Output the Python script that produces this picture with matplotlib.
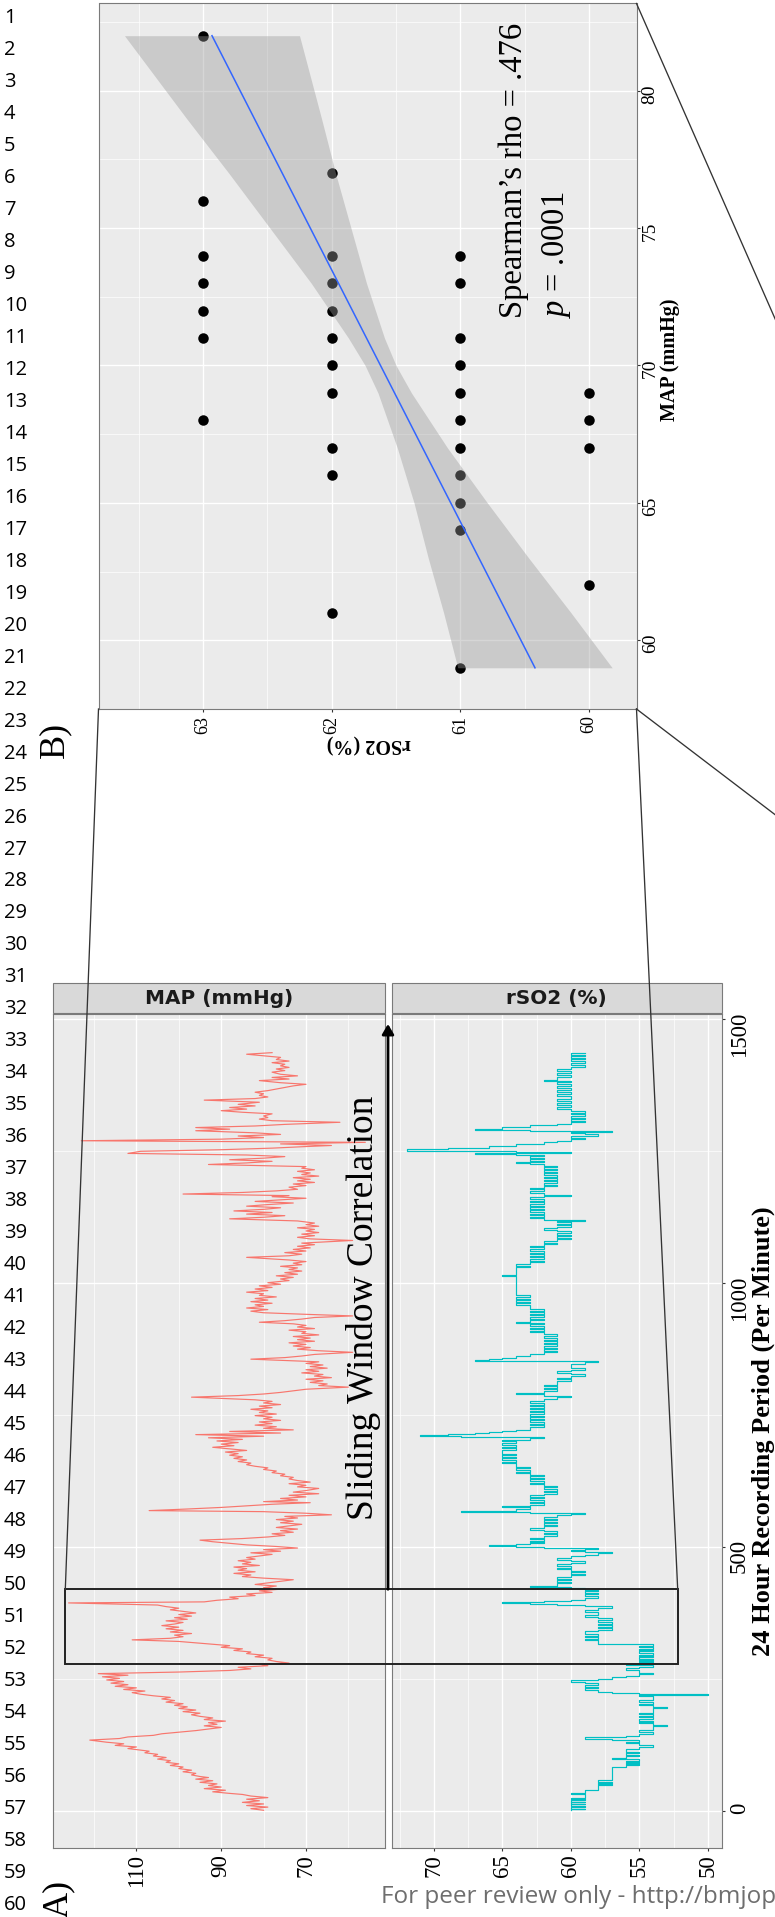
import numpy as np
import matplotlib
matplotlib.use('Agg')
from matplotlib import pyplot as plt
from matplotlib.patches import Rectangle

plt.rcParams['font.family'] = ['Liberation Serif', 'DejaVu Serif']
plt.rcParams['mathtext.fontset'] = 'custom'
plt.rcParams['mathtext.rm'] = 'Liberation Serif'
plt.rcParams['mathtext.it'] = 'Liberation Serif:italic'

W, H = 775, 1917

# B) MAP readings grouped by rSO2 level, taken inside the window
rso2_levels = [63, 62, 61, 60]
map_at_63 = [82, 76, 74, 73, 72, 71, 68]
map_at_62 = [77, 74, 73, 72, 71, 70, 69, 67, 66, 61]
map_at_61 = [74, 73, 71, 70, 69, 68, 67, 66, 65, 64, 59]
map_at_60 = [69, 68, 67, 62]

# linear smoother and its confidence band
fit_map = [59, 82]
fit_rso2 = [60.42, 62.93]
band_map = [59, 61, 63, 65, 67, 69, 70, 71, 73, 75, 77, 79, 82]
band_lo = [59.82, 60.14, 60.47, 60.79, 61.10, 61.38, 61.50, 61.59, 61.73, 61.85, 61.97, 62.08, 62.25]
band_hi = [61.02, 61.13, 61.25, 61.36, 61.49, 61.64, 61.74, 61.87, 62.16, 62.48, 62.80, 63.13, 63.61]

rho_label = 'Spearman\u2019s rho = .476'
p_label = r'$\mathit{p}$ = .0001'

# A) 24 h recording, (minute, value)
map_readings = [
    (1, 80), (4, 83), (7, 79), (10, 84), (13, 80), (16, 85), (19, 81), (22, 84), (25, 79), (28, 83), (31, 85),
    (33, 88), (36, 92), (39, 89), (42, 94), (45, 90), (48, 93), (51, 91), (54, 95), (57, 92), (60, 96), (63, 93), (65, 95),
    (68, 97), (71, 96), (74, 99), (77, 97), (80, 100), (83, 99), (86, 102), (89, 100), (92, 103), (95, 102), (98, 105),
    (101, 103), (104, 106), (107, 105), (110, 108), (113, 107), (115, 109),
    (118, 112), (121, 110), (124, 115), (127, 113), (130, 117), (134, 121), (137, 114), (140, 112), (143, 106), (146, 104),
    (149, 100), (152, 96), (155, 93), (158, 90), (161, 94), (164, 91), (167, 93), (170, 89), (173, 94), (176, 92), (179, 95),
    (182, 97), (185, 95), (188, 99), (191, 96), (194, 100), (197, 98), (200, 101), (203, 99), (206, 103), (209, 101),
    (212, 104), (215, 102), (218, 106), (221, 109), (224, 111), (227, 108), (230, 113), (233, 110), (236, 115), (239, 112),
    (242, 116), (245, 113), (248, 117), (251, 114), (254, 118), (257, 112), (260, 119),
    (263, 100), (266, 88), (269, 83), (272, 86), (275, 79), (278, 81), (280, 74),
    (283, 77), (286, 79), (289, 78), (292, 82), (295, 80), (298, 84), (301, 83), (304, 87), (307, 85), (310, 90), (313, 88),
    (317, 94), (321, 100), (324, 111), (327, 102), (330, 99), (333, 101), (336, 97), (339, 102), (342, 99), (345, 103),
    (348, 100), (351, 104), (354, 101), (357, 99), (360, 103), (363, 98), (366, 101), (369, 97), (372, 100), (375, 96),
    (378, 99), (381, 102), (384, 100), (387, 103), (390, 105), (394, 126), (396, 94),
    (399, 91), (402, 86), (405, 88), (408, 82), (411, 84), (414, 78), (417, 81), (420, 76), (423, 80), (426, 77), (429, 82),
    (432, 79), (435, 76), (438, 73),
    (441, 80), (444, 85), (447, 83), (450, 87), (453, 82), (456, 86), (459, 84), (462, 87), (465, 81), (468, 85), (471, 83),
    (474, 86), (477, 82), (480, 84), (483, 81),
    (486, 78), (489, 83), (492, 76), (495, 80), (498, 72), (501, 77), (504, 84), (507, 88), (510, 92), (513, 95), (516, 85),
    (519, 79), (522, 75), (525, 78), (528, 73), (531, 76), (534, 72), (537, 77), (540, 74), (543, 71), (546, 76), (549, 73),
    (552, 77), (555, 72), (558, 75), (561, 64), (564, 70), (567, 80), (569, 107), (572, 98), (575, 90), (578, 84), (581, 78),
    (584, 69), (586, 80), (589, 72), (592, 76), (595, 70), (598, 74), (601, 67), (604, 73), (607, 70), (611, 67), (614, 72),
    (617, 70), (620, 74), (623, 69), (626, 72), (629, 74), (632, 73), (635, 76), (638, 75), (641, 78), (644, 77), (647, 80),
    (650, 79), (653, 82), (656, 84), (659, 83), (662, 86), (665, 84), (668, 87), (671, 85), (674, 88), (677, 86), (680, 89),
    (683, 84), (686, 88), (689, 92), (692, 87), (695, 90), (698, 86), (701, 91), (704, 85),
    (707, 93), (710, 80), (713, 96), (716, 76), (719, 88), (722, 73),
    (725, 80), (728, 77), (731, 82), (734, 78), (737, 81), (740, 76), (743, 80), (746, 78), (749, 82), (752, 77), (755, 81),
    (758, 79), (761, 83), (764, 78), (767, 81), (770, 76), (773, 80), (776, 78), (779, 82), (784, 97),
    (787, 86), (790, 80), (793, 76), (796, 73), (799, 70), (803, 60), (806, 67),
    (809, 65), (812, 69), (815, 66), (818, 70), (821, 64), (824, 68), (827, 66), (830, 71), (833, 67), (836, 70), (839, 65),
    (842, 69), (845, 66), (848, 70), (851, 67), (856, 83), (859, 75), (862, 71), (865, 68), (869, 59), (872, 67),
    (875, 72), (878, 69), (881, 73), (884, 70), (887, 74), (890, 68), (893, 72), (896, 69), (899, 73), (902, 67), (905, 71),
    (908, 70), (911, 74), (914, 68), (917, 72), (920, 70), (923, 73), (926, 81), (929, 75), (932, 71), (935, 68), (938, 59),
    (941, 70), (944, 80), (947, 83), (950, 79), (953, 84), (956, 80), (959, 82), (962, 78), (965, 83), (968, 79), (971, 82),
    (974, 77), (977, 81), (980, 80), (983, 84), (986, 79), (989, 82), (992, 78), (995, 81), (998, 76), (1001, 79), (1005, 74),
    (1008, 76), (1011, 73), (1014, 77), (1017, 72), (1020, 75), (1023, 71), (1026, 74), (1029, 72), (1032, 76), (1035, 71),
    (1038, 73), (1041, 70), (1044, 74), (1049, 84), (1052, 74), (1055, 71), (1058, 75), (1061, 70), (1064, 73), (1067, 69),
    (1070, 72), (1073, 68), (1076, 71), (1081, 59), (1084, 69), (1087, 72), (1090, 68), (1093, 71), (1096, 67), (1099, 70),
    (1102, 68), (1105, 72), (1108, 67), (1111, 70), (1114, 68), (1118, 72),
    (1122, 88), (1125, 80), (1128, 75), (1131, 84), (1134, 78), (1137, 87), (1140, 80),
    (1143, 76), (1146, 84), (1149, 79), (1152, 73), (1155, 82), (1158, 76), (1161, 70), (1164, 78), (1166, 74), (1169, 99),
    (1172, 85), (1175, 77), (1178, 72), (1182, 74), (1185, 70), (1188, 73), (1191, 68), (1194, 72), (1197, 69), (1200, 73),
    (1203, 67), (1206, 71), (1209, 69), (1212, 72), (1215, 68), (1218, 71), (1221, 70), (1225, 93),
    (1228, 84), (1231, 78), (1234, 88), (1237, 80), (1240, 75), (1243, 84), (1246, 112), (1250, 109),
    (1253, 90), (1256, 78), (1259, 70), (1261, 64), (1264, 76), (1267, 56), (1270, 123),
    (1273, 90), (1276, 80), (1279, 86), (1282, 76), (1285, 82), (1289, 96),
    (1292, 88), (1295, 96), (1298, 82), (1301, 75), (1305, 62),
    (1308, 78), (1311, 81), (1314, 79), (1317, 80), (1321, 78),
    (1324, 85), (1327, 90), (1330, 84), (1333, 88), (1336, 82), (1339, 86), (1343, 81), (1347, 94),
    (1350, 82), (1353, 79), (1356, 81), (1359, 80), (1362, 82), (1365, 79),
    (1368, 77), (1371, 75), (1374, 73), (1377, 70), (1380, 76),
    (1384, 81), (1387, 74), (1390, 78), (1393, 72), (1396, 76),
    (1400, 78), (1403, 75), (1406, 77), (1409, 74), (1412, 76), (1415, 75), (1418, 78), (1421, 74), (1424, 77), (1428, 76),
    (1431, 80), (1434, 84), (1437, 78),
]

rso2_readings = [
    (1, 60), (3, 59), (4, 60), (6, 60), (8, 59), (9, 60), (12, 59), (13, 60), (16, 59), (17, 60), (20, 59), (22, 60),
    (24, 59), (28, 59), (31, 60), (33, 59), (36, 59), (40, 58), (46, 58), (48, 57), (50, 58), (53, 57), (55, 58), (58, 57),
    (62, 57), (70, 57), (80, 57), (83, 56), (86, 55), (88, 56), (90, 55), (92, 56), (95, 55), (99, 57), (100, 56),
    (104, 55), (106, 56), (109, 55), (112, 56), (115, 56), (118, 55), (121, 54), (124, 55), (128, 56), (131, 55),
    (135, 57), (137, 59), (139, 56), (142, 55), (146, 54), (150, 55), (154, 54), (158, 54), (161, 53), (163, 54),
    (166, 55), (169, 54), (171, 55), (174, 54), (177, 55), (180, 54), (183, 55), (186, 54), (190, 54), (194, 53),
    (197, 54), (200, 55), (203, 54), (207, 55), (210, 54), (214, 54), (217, 55), (219, 50), (221, 55), (224, 57),
    (226, 58), (229, 59), (232, 58), (235, 59), (238, 58), (242, 59), (245, 60), (247, 58), (250, 57), (253, 56),
    (256, 55), (259, 54), (262, 55), (266, 56), (270, 55), (273, 54), (276, 56), (279, 55), (282, 54), (284, 55),
    (286, 54), (288, 55), (291, 54), (293, 55), (296, 54), (299, 55), (302, 54), (304, 55), (307, 54), (310, 55),
    (313, 54), (316, 58), (320, 58), (323, 59), (326, 58), (329, 59), (332, 58), (336, 59), (340, 58), (343, 57),
    (346, 58), (349, 57), (352, 58), (355, 57), (358, 58), (361, 57), (365, 58), (368, 59), (372, 58), (376, 59),
    (380, 58), (384, 57), (388, 59), (390, 61), (392, 63), (393, 65), (395, 62), (397, 60), (400, 59), (404, 58),
    (407, 59), (410, 58), (413, 59), (416, 58), (419, 59), (422, 60), (425, 63), (427, 61), (431, 60), (434, 61),
    (437, 60), (440, 61), (443, 60), (446, 59), (449, 60), (452, 59), (455, 60), (458, 61), (461, 60), (464, 61),
    (467, 60), (470, 59), (473, 60), (476, 61), (479, 60), (482, 59), (485, 58), (488, 57), (490, 59), (493, 60),
    (495, 59), (497, 58), (499, 62), (500, 64), (501, 66), (503, 64), (505, 63), (507, 62), (510, 63), (512, 62),
    (515, 63), (518, 62), (521, 61), (524, 62), (527, 61), (530, 62), (533, 63), (536, 62), (539, 61), (542, 62),
    (545, 61), (548, 62), (551, 61), (554, 62), (557, 61), (561, 60), (563, 59), (565, 63), (567, 68), (569, 64),
    (572, 63), (575, 65), (577, 63), (580, 62), (583, 63), (586, 62), (589, 63), (592, 62), (595, 63), (598, 62),
    (601, 61), (604, 62), (607, 61), (610, 62), (613, 61), (616, 62), (619, 63), (622, 62), (625, 63), (628, 62),
    (631, 63), (634, 62), (637, 63), (640, 64), (643, 63), (646, 64), (649, 63), (652, 64), (655, 64), (659, 65),
    (662, 64), (665, 65), (668, 64), (671, 65), (674, 64), (677, 65), (680, 65), (684, 64), (687, 65), (690, 64),
    (693, 65), (697, 64), (700, 65), (703, 63), (706, 62), (708, 65), (709, 68), (710, 71), (712, 69), (714, 67),
    (716, 66), (718, 65), (720, 64), (722, 63), (725, 63), (728, 62), (731, 63), (734, 62), (737, 63), (740, 62),
    (743, 63), (746, 62), (749, 63), (752, 62), (755, 63), (758, 62), (761, 63), (764, 62), (767, 63), (770, 62),
    (773, 63), (777, 62), (781, 61), (784, 60), (786, 62), (790, 64), (792, 62), (796, 61), (799, 62), (802, 61),
    (805, 62), (808, 61), (812, 61), (815, 60), (818, 61), (821, 60), (824, 59), (827, 60), (830, 61), (833, 60),
    (836, 59), (839, 60), (842, 60), (847, 59), (850, 58), (852, 67), (854, 66), (856, 65), (859, 64), (862, 63),
    (866, 62), (869, 61), (872, 62), (875, 61), (878, 62), (881, 61), (884, 62), (887, 61), (890, 62), (893, 61),
    (896, 62), (899, 61), (903, 62), (907, 63), (910, 62), (913, 63), (916, 62), (919, 63), (922, 62), (925, 64),
    (927, 63), (930, 62), (933, 63), (936, 62), (939, 63), (942, 62), (945, 63), (948, 62), (951, 63), (955, 63),
    (959, 64), (962, 63), (965, 64), (968, 63), (971, 64), (974, 63), (977, 64), (980, 64), (1014, 65), (1016, 64),
    (1030, 63), (1033, 64), (1036, 63), (1040, 62), (1043, 63), (1046, 62), (1049, 63), (1052, 62), (1055, 63),
    (1058, 62), (1061, 63), (1064, 62), (1068, 63), (1071, 62), (1074, 61), (1077, 62), (1080, 61), (1083, 60),
    (1086, 61), (1089, 60), (1092, 61), (1095, 60), (1098, 61), (1101, 62), (1104, 61), (1107, 60), (1110, 61),
    (1113, 60), (1116, 61), (1118, 59), (1120, 62), (1123, 63), (1126, 62), (1129, 63), (1132, 62), (1135, 63),
    (1138, 62), (1141, 63), (1144, 62), (1147, 63), (1150, 62), (1153, 63), (1156, 62), (1159, 63), (1163, 62),
    (1166, 60), (1168, 62), (1171, 63), (1174, 62), (1178, 63), (1181, 62), (1184, 61), (1187, 62), (1190, 61),
    (1193, 62), (1196, 61), (1199, 62), (1202, 61), (1205, 62), (1208, 61), (1211, 62), (1214, 61), (1217, 62),
    (1220, 61), (1223, 62), (1226, 63), (1227, 64), (1229, 62), (1232, 63), (1235, 62), (1238, 63), (1241, 62),
    (1243, 64), (1244, 67), (1246, 60), (1248, 64), (1250, 67), (1251, 72), (1254, 69), (1257, 66), (1260, 64),
    (1263, 62), (1267, 61), (1270, 60), (1273, 59), (1276, 60), (1279, 58), (1282, 59), (1285, 60), (1286, 57),
    (1288, 60), (1289, 63), (1290, 67), (1293, 65), (1296, 63), (1299, 61), (1302, 60), (1305, 59), (1308, 60),
    (1311, 59), (1314, 60), (1317, 59), (1320, 60), (1323, 59), (1327, 60), (1330, 61), (1334, 60), (1338, 61),
    (1342, 60), (1346, 61), (1350, 60), (1354, 61), (1358, 60), (1362, 61), (1366, 60), (1370, 61), (1374, 60),
    (1377, 61), (1381, 60), (1384, 62), (1386, 61), (1390, 60), (1394, 61), (1398, 60), (1402, 61), (1406, 60),
    (1410, 59), (1413, 60), (1418, 59), (1421, 60), (1424, 59), (1427, 60), (1430, 59), (1433, 60), (1437, 59),
]

window_start, window_end = 280, 420

footer = 'For peer review only - http://bmjopen.bmj.com/site/about/guidelines.xhtml'

panel_bg = '#EBEBEB'
edge_col = '#7a7a7a'


def px_axes(x0, y0, x1, y1):
    # axes placed by pixel box (top-left origin)
    return fig.add_axes([x0 / W, 1 - y1 / H, (x1 - x0) / W, (y1 - y0) / H])


def style_panel(ax):
    ax.set_facecolor(panel_bg)
    ax.set_axisbelow(True)
    ax.grid(which='major', color='white', lw=1.0)
    ax.grid(which='minor', color='white', lw=0.5)
    for s in ax.spines.values():
        s.set_color(edge_col)
        s.set_linewidth(0.8)
    ax.tick_params(which='minor', length=0)


fig = plt.figure(figsize=(W / 100, H / 100), dpi=100)

# ---------------- B) scatter ----------------
axb = px_axes(98.5, 3.5, 636.5, 709)
style_panel(axb)
axb.set_xlim(63.812, 59.631)
axb.set_ylim(57.834, 83.171)
axb.set_xticks([60, 61, 62, 63])
axb.set_xticks([60.5, 61.5, 62.5, 63.5], minor=True)
axb.set_yticks([60, 65, 70, 75, 80])
axb.set_yticks([57.5, 62.5, 67.5, 72.5, 77.5, 82.5], minor=True)
axb.yaxis.tick_right()
axb.tick_params(which='major', length=2.2, width=0.8, color='#333333', labelsize=13,
                labelrotation=90, pad=2.5)
axb.tick_params(axis='y', pad=1.5, labelsize=14)

pts_rso2 = np.concatenate([[lv] * len(m) for lv, m in
                           zip(rso2_levels, [map_at_63, map_at_62, map_at_61, map_at_60])])
pts_map = np.concatenate([map_at_63, map_at_62, map_at_61, map_at_60])
axb.scatter(pts_rso2, pts_map, s=57, c='black', lw=0, zorder=2)
axb.fill_betweenx(band_map, band_lo, band_hi, color='#999999', alpha=0.4, lw=0, zorder=3)
axb.plot(fit_rso2, fit_map, color='#3366FF', lw=1.1, zorder=4)

# ---------------- A) time series ----------------
map_t, map_v = np.array(map_readings).T
rs_t, rs_v = np.array(rso2_readings).T
# rSO2 is held between readings
rs_step_t = np.repeat(rs_t, 2)[1:]
rs_step_v = np.repeat(rs_v, 2)[:-1]

t_lim = (-69.56, 1509.67)

axm = px_axes(53.4, 1014.3, 384.6, 1847.5)
style_panel(axm)
axm.set_xlim(129.58, 51.46)
axm.set_ylim(*t_lim)
axm.set_xticks([70, 90, 110])
axm.set_xticks([60, 80, 100, 120], minor=True)
axm.set_yticks([0, 500, 1000, 1500])
axm.set_yticks([250, 750, 1250], minor=True)
axm.tick_params(axis='y', which='both', length=0, labelleft=False)
axm.tick_params(axis='x', which='major', length=2.2, width=0.8, color='#333333',
                labelsize=16.5, labelrotation=90, pad=2.5)
axm.plot(map_v, map_t, color='#F8766D', lw=0.85)

axr = px_axes(391.5, 1014.3, 721.7, 1847.5)
style_panel(axr)
axr.set_xlim(73.10, 49.0)
axr.set_ylim(*t_lim)
axr.set_xticks([50, 55, 60, 65, 70])
axr.set_xticks([52.5, 57.5, 62.5, 67.5, 72.5], minor=True)
axr.set_yticks([0, 500, 1000, 1500])
axr.set_yticks([250, 750, 1250], minor=True)
axr.yaxis.tick_right()
axr.tick_params(which='major', length=2.2, width=0.8, color='#333333',
                labelsize=16.5, labelrotation=90, pad=2.5)
axr.tick_params(axis='y', pad=3)
axr.plot(rs_step_v, rs_step_t, color='#00BFC4', lw=0.85)

# ---------------- annotation layer in page pixels ----------------
ov = fig.add_axes([0, 0, 1, 1], zorder=10)
ov.set_xlim(0, W)
ov.set_ylim(H, 0)
ov.axis('off')
ov.patch.set_alpha(0)

# manuscript line numbers
for k in range(1, 61):
    ov.text(4, 18.3 + 31.97 * (k - 1), str(k), family=['Open Sans', 'DejaVu Sans'],
            fontsize=14.5, ha='left', va='center')

# facet strips
for (x0, x1), lab in zip([(53.4, 384.6), (391.5, 721.7)], ['MAP (mmHg)', 'rSO2 (%)']):
    ov.add_patch(Rectangle((x0, 983.3), x1 - x0, 30.2, fc='#D9D9D9', ec=edge_col, lw=0.8))
    ov.text((x0 + x1) / 2, 998.6, lab, family='DejaVu Sans', weight='bold', fontsize=14.4,
            color='#1A1A1A', ha='center', va='center')

# zoom connectors from the window to the scatter
ov.add_patch(Rectangle((65.3, 1589.3), 612.4, 75.0, fill=False, ec='#222222', lw=1.4))
ov.plot([98.5, 65.3], [709, 1589.3], color='#333333', lw=0.95)
ov.plot([636.5, 677.7], [709, 1589.3], color='#333333', lw=0.95)
ov.plot([636.5, 900], [709, 909.9], color='#333333', lw=0.95)
ov.plot([636.5, 820], [3.5, 421], color='#333333', lw=0.95)

# sliding window arrow
ov.annotate('', xy=(388, 1024), xytext=(388, 1589.3),
            arrowprops=dict(arrowstyle='-|>,head_length=0.6,head_width=0.35', lw=2.0,
                            color='black', shrinkA=0, shrinkB=0))
ov.text(373, 1520, 'Sliding Window Correlation', fontsize=27, rotation=90,
        rotation_mode='anchor', ha='left', va='baseline')

# axis titles
ov.text(675, 360, 'MAP (mmHg)', fontsize=14.5, weight='bold', rotation=90,
        rotation_mode='anchor', ha='center', va='baseline')
ov.text(369, 744, 'rSO2 (%)', fontsize=14.5, weight='bold', rotation=180,
        rotation_mode='anchor', ha='center', va='center')
ov.text(770, 1431, '24 Hour Recording Period (Per Minute)', fontsize=19, weight='bold',
        rotation=90, rotation_mode='anchor', ha='center', va='baseline')

# correlation result
ov.text(522, 318, rho_label, fontsize=23.5, rotation=90, rotation_mode='anchor',
        ha='left', va='baseline')
ov.text(564, 318, p_label, fontsize=23.5, rotation=90, rotation_mode='anchor',
        ha='left', va='baseline')

# panel tags
ov.text(63, 758, 'B)', fontsize=26, rotation=90, rotation_mode='anchor', ha='left', va='baseline')
ov.text(67, 1918, 'A)', fontsize=26, rotation=90, rotation_mode='anchor', ha='left', va='baseline')

ov.text(381, 1903, footer, family=['Open Sans', 'DejaVu Sans'], fontsize=17.5, color='#6e6e6e',
        ha='left', va='baseline')

fig.savefig('out.png', dpi=100)
